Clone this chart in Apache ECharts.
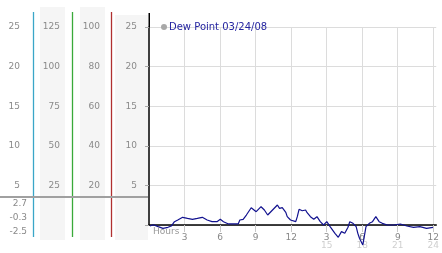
<!DOCTYPE html>
<html><head><meta charset="utf-8">
<script src="https://cdn.jsdelivr.net/npm/echarts@6/dist/echarts.min.js"></script>
<style>html,body{margin:0;padding:0;background:#fff;overflow:hidden}#c{width:442px;height:253px}</style>
</head><body><div id="c"></div>
<script>
// ---- data ----
const seriesName = 'Dew Point 03/24/08';
const hours = [0.08,0.36,0.77,1.18,1.6,1.88,2.15,2.43,2.84,3.25,3.67,4.08,4.5,4.91,5.32,5.74,6.02,6.29,6.71,7.12,7.53,7.67,7.95,8.22,8.63,9.05,9.46,9.74,10.02,10.43,10.84,11.02,11.12,11.25,11.4,11.55,11.67,11.95,12.11,12.39,12.52,12.67,12.94,13.22,13.35,13.63,13.91,14.18,14.46,14.74,15.01,15.29,15.7,15.98,16.25,16.53,16.8,16.95,17.22,17.49,17.63,17.77,17.91,18.05,18.32,18.6,18.87,19.15,19.43,19.7,20.12,20.67,21.22,21.77,22.33,22.87,23.43,23.98];
const dewPoint = [-0.13,0.04,-0.21,-0.42,-0.29,-0.13,0.42,0.63,0.97,0.84,0.72,0.84,0.97,0.63,0.42,0.42,0.72,0.42,0.13,0.13,0.13,0.63,0.72,1.26,2.18,1.68,2.31,1.89,1.26,1.89,2.52,2.1,1.89,2.2,1.98,1.6,1.05,0.63,0.63,0.42,1.05,1.98,1.8,1.89,1.55,1.05,0.72,1.05,0.42,0,0.42,-0.21,-1.05,-1.55,-0.84,-1.05,-0.29,0.42,0.21,-0.21,-1.05,-1.68,-1.89,-2.52,-0.21,0.21,0.42,1.05,0.42,0.21,0,0,0.13,-0.13,-0.29,-0.21,-0.42,-0.29];
const xTickValues = [3,6,9,12,15,18,21,24];
const xTopLabels = ['3','6','9','12','3','6','9','12'];
const xBottomLabels = ['','','','','15','18','21','24'];
const summaryLabels = ['2.7','-0.3','-2.5'];
const col1Axis = {min:0,max:25,interval:5};
const col2Axis = {min:0,max:125,interval:25};
const col3Axis = {min:0,max:100,interval:20};
const mainAxis = {min:0,max:25,interval:5};

// ---- chart ----
const FONT = 'DejaVu Sans';
const chart = echarts.init(document.getElementById('c'), null, {renderer:'canvas'});
const hideZero = v => (v === 0 ? '' : String(v));
function sideAxis(cfg, offset){
  return {type:'value', position:'left', offset:offset, min:cfg.min, max:cfg.max, interval:cfg.interval,
    axisLine:{show:false}, axisTick:{show:false}, splitLine:{show:false},
    axisLabel:{margin:0, formatter:hideZero, color:'#8a8a8a', fontFamily:FONT, fontSize:9}};
}
const bands = [[40,7,25,233],[80,7,25,233],[115,15,33,225]].map(b=>({type:'rect',z:-10,silent:true,
  shape:{x:b[0],y:b[1],width:b[2],height:b[3]},style:{fill:'#f5f5f5'}}));
const vlines = [[33.5,'#3aa6c8'],[72.5,'#3aaa3a'],[111.5,'#b03030']].map(l=>({type:'line',z:5,silent:true,
  shape:{x1:l[0],y1:12,x2:l[0],y2:237},style:{stroke:l[1],lineWidth:1.3}}));
const summaryYs = [204,218,232];
const summary = summaryLabels.map((t,i)=>({type:'text',z:5,silent:true,
  style:{x:27,y:summaryYs[i],text:t,align:'right',verticalAlign:'middle',fill:'#8a8a8a',font:'9px "DejaVu Sans"'}}));

chart.setOption({
  animation:false,
  backgroundColor:'#fff',
  grid:{left:149,right:0,top:27,bottom:28,containLabel:false},
  legend:{show:true,left:156,top:17,itemWidth:6,itemHeight:6,icon:'circle',
    data:[{name:seriesName,itemStyle:{color:'#a8a8a8'}}],
    textStyle:{color:'#2424a0',fontFamily:FONT,fontSize:10,padding:[0,0,0,-3]}},
  xAxis:{type:'value',min:0,max:24.25,interval:3,
    axisLine:{show:true,onZero:false,lineStyle:{color:'#000',width:1.5}},
    axisTick:{show:true,length:7,customValues:xTickValues,lineStyle:{color:'#c8c8c8'}},
    splitLine:{show:true,lineStyle:{color:'#dcdcdc',width:1}},
    axisLabel:{margin:9,customValues:xTickValues,formatter:function(v){
      const i = xTickValues.indexOf(v);
      if (i < 0) return '';
      return xBottomLabels[i] ? '{a|'+xTopLabels[i]+'}\n{b|'+xBottomLabels[i]+'}' : '{a|'+xTopLabels[i]+'}';
    },rich:{a:{color:'#888',fontFamily:FONT,fontSize:9,lineHeight:8},b:{color:'#cfcfcf',fontFamily:FONT,fontSize:9,lineHeight:8}}}},
  yAxis:[
    {type:'value',position:'left',min:mainAxis.min,max:mainAxis.max,interval:mainAxis.interval,
      axisLine:{show:true,lineStyle:{color:'#000',width:1.5}},
      axisTick:{show:true,length:4,lineStyle:{color:'#aaa'}},
      splitLine:{show:true,lineStyle:{color:'#dcdcdc',width:1}},
      axisLabel:{margin:12,formatter:hideZero,color:'#8a8a8a',fontFamily:FONT,fontSize:9}},
    sideAxis(col3Axis,49),
    sideAxis(col2Axis,89),
    sideAxis(col1Axis,129)
  ],
  series:[{name:seriesName,type:'line',xAxisIndex:0,yAxisIndex:0,clip:false,showSymbol:false,symbol:'none',
    color:'#12128f',lineStyle:{color:'#12128f',width:1.2},
    data:hours.map((h,i)=>[h,dewPoint[i]])}],
  graphic:[].concat(bands, vlines, summary, [
    {type:'line',z:5,silent:true,shape:{x1:0,y1:197,x2:148,y2:197},style:{stroke:'#a0a0a0',lineWidth:2}},
    {type:'line',z:50,silent:true,shape:{x1:149.25,y1:13,x2:149.25,y2:27},style:{stroke:'#000',lineWidth:1.5}},
    {type:'text',z:50,silent:true,style:{x:153,y:232,text:'Hours',verticalAlign:'middle',fill:'#999',font:'9px "DejaVu Sans"'}}
  ])
});
</script></body></html>
